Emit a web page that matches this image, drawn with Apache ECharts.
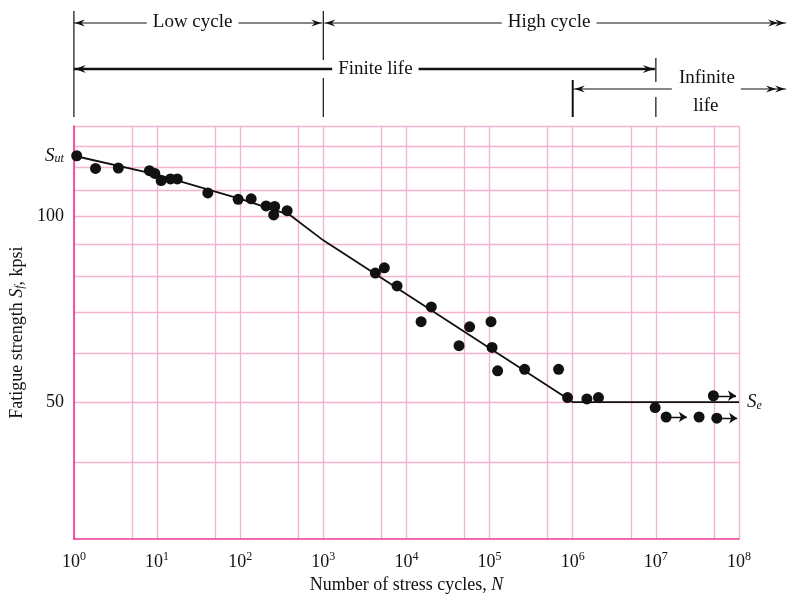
<!DOCTYPE html>
<html>
<head>
<meta charset="utf-8">
<title>S-N diagram</title>
<script src="https://cdn.jsdelivr.net/npm/echarts@6/dist/echarts.min.js"></script>
<style>body{margin:0;background:#fff;}</style>
</head>
<body>
<div id="main" style="width:786px;height:599px;"></div>
<script type="text/javascript">
    // test points: number of cycles and fatigue strength (kpsi)
    var cycles = [1.08, 1.82, 3.42, 8.1, 9.4, 11.2, 14.5, 17.5, 40.8, 94.6, 135.6, 205, 260, 253, 367,
        4230, 5420, 7710, 19900, 15000, 57500, 104000, 42900, 107000, 125000, 264000, 676000,
        867000, 1.48e6, 2.04e6, 9.8e6, 1.33e7, 3.31e7, 4.92e7, 5.41e7];
    var strength = [125.3, 119.5, 119.7, 118.5, 117.3, 114.2, 114.9, 114.9, 109.1, 106.5, 106.7, 103.9, 103.7, 100.5, 102.1,
        80.9, 82.5, 77.1, 71.3, 67.5, 66.2, 67.5, 61.7, 61.3, 56.2, 56.5, 56.5,
        50.85, 50.6, 50.85, 49.0, 47.3, 47.3, 51.2, 47.1];

    // fitted S-N curve
    var fitN = [1, 10, 100, 400, 1000, 1e6, 1e8];
    var fitS = [125.3, 116.8, 106.7, 100.4, 91.4, 50, 50];

    // run-outs (specimens that did not fail)
    var runStartN = [1.33e7, 4.92e7, 5.41e7];
    var runEndN = [2.36e7, 9.2e7, 9.5e7];
    var runS = [47.3, 51.2, 47.1];

    // grid lines and tick labels
    var gridN = [1, 5, 10, 50, 100, 500, 1e3, 5e3, 1e4, 5e4, 1e5, 5e5, 1e6, 5e6, 1e7, 5e7, 1e8];
    var labelN = [1, 10, 100, 1e3, 1e4, 1e5, 1e6, 1e7, 1e8];
    var gridS = [40, 50, 60, 70, 80, 90, 100, 110, 120, 130, 140];
    var labelS = [50, 100, 125.3];
    var sMin = 30, sMax = 140;

    var lg = Math.log10;
    var serif = '"Liberation Serif", "DejaVu Serif", serif';
    var pink = '#f5b3d3';
    var magenta = '#ec3a94';
    var ink = '#111111';

    var pts = cycles.map(function (n, i) { return [lg(n), lg(strength[i])]; });
    var fit = fitN.map(function (n, i) { return [lg(n), lg(fitS[i])]; });
    var runs = runS.map(function (s, i) {
        return { coords: [[lg(runStartN[i]), lg(s)], [lg(runEndN[i]), lg(s)]] };
    });

    var myChart = echarts.init(document.getElementById('main'));

    var option = {
        backgroundColor: '#fff',
        animation: false,
        textStyle: { fontFamily: serif, color: ink },
        grid: { left: 73, right: 47, top: 126, bottom: 59 },
        xAxis: {
            type: 'value',
            min: 0,
            max: 8,
            name: 'Number of stress cycles, {i|N}',
            nameLocation: 'middle',
            nameGap: 36,
            nameTextStyle: {
                fontFamily: serif, fontSize: 18, color: ink,
                rich: { i: { fontFamily: serif, fontSize: 18, fontStyle: 'italic', color: ink } }
            },
            axisLine: { lineStyle: { color: magenta, width: 1.6 } },
            axisTick: { show: false, customValues: gridN.map(lg) },
            splitLine: { show: true, lineStyle: { color: pink, width: 1.4 } },
            axisLabel: {
                customValues: labelN.map(lg),
                margin: 12,
                formatter: function (v) { return '{b|10}{s|' + Math.round(v) + '}'; },
                rich: {
                    b: { fontFamily: serif, fontSize: 18, color: ink, lineHeight: 22 },
                    s: { fontFamily: serif, fontSize: 12, color: ink, verticalAlign: 'top', lineHeight: 12 }
                }
            }
        },
        yAxis: {
            type: 'value',
            min: lg(sMin),
            max: lg(sMax),
            name: 'Fatigue strength {i|S}{sub|f}, kpsi',
            nameLocation: 'middle',
            nameGap: 47,
            nameTextStyle: {
                fontFamily: serif, fontSize: 18, color: ink,
                rich: {
                    i: { fontFamily: serif, fontSize: 18, fontStyle: 'italic', color: ink },
                    sub: { fontFamily: serif, fontSize: 12, fontStyle: 'italic', color: ink, verticalAlign: 'bottom' }
                }
            },
            axisLine: { show: true, lineStyle: { color: magenta, width: 1.6 } },
            axisTick: { show: false, customValues: gridS.map(lg) },
            splitLine: { show: true, lineStyle: { color: pink, width: 1.4 } },
            axisLabel: {
                customValues: labelS.map(lg),
                margin: 10,
                formatter: function (v) {
                    var s = Math.round(Math.pow(10, v));
                    return s === 125 ? '{i|S}{u|ut}' : '{n|' + s + '}';
                },
                rich: {
                    n: { fontFamily: serif, fontSize: 18, color: ink },
                    i: { fontFamily: serif, fontSize: 19, fontStyle: 'italic', color: ink },
                    u: { fontFamily: serif, fontSize: 12, fontStyle: 'italic', color: ink, verticalAlign: 'bottom' }
                }
            }
        },
        series: [
            {
                name: 'fit',
                type: 'line',
                data: fit,
                showSymbol: false,
                lineStyle: { color: ink, width: 1.8 },
                endLabel: {
                    show: true,
                    distance: 8,
                    formatter: '{i|S}{e|e}',
                    rich: {
                        i: { fontFamily: serif, fontSize: 19, fontStyle: 'italic', color: ink },
                        e: { fontFamily: serif, fontSize: 12, fontStyle: 'italic', color: ink, verticalAlign: 'bottom' }
                    }
                },
                z: 3
            },
            {
                name: 'runout',
                type: 'lines',
                coordinateSystem: 'cartesian2d',
                data: runs,
                symbol: ['none', 'arrow'],
                symbolSize: 8,
                lineStyle: { color: ink, width: 1.3, opacity: 1 },
                z: 4
            },
            {
                name: 'tests',
                type: 'scatter',
                data: pts,
                symbolSize: 11,
                itemStyle: { color: ink, opacity: 1 },
                z: 5
            }
        ]
    };

    myChart.setOption(option);

    // life-regime annotations above the plot, tied to the x axis
    var px = function (n) { return myChart.convertToPixel({ xAxisIndex: 0 }, lg(n)); };
    var x0 = px(1), x3 = px(1e3), x6 = px(1e6), x7 = px(1e7), xR = 786;

    function seg(xa, xb, y, w) {
        return { type: 'line', shape: { x1: xa, y1: y, x2: xb, y2: y }, style: { stroke: ink, lineWidth: w || 1.2 }, z: 10 };
    }
    function vseg(x, ya, yb, w) {
        return { type: 'line', shape: { x1: x, y1: ya, x2: x, y2: yb }, style: { stroke: ink, lineWidth: w || 1.2 }, z: 10 };
    }
    function head(x, y, dir, big) {
        var l = big ? 11 : 10, h = big ? 4 : 3.5, k = big ? 7 : 6.5;
        return {
            type: 'polygon',
            shape: { points: [[x, y], [x - dir * l, y - h], [x - dir * k, y], [x - dir * l, y + h]] },
            style: { fill: ink },
            z: 11
        };
    }
    function label(text, x, y) {
        return {
            type: 'text', x: x, y: y, z: 12,
            style: {
                text: text, font: '19px ' + serif, fill: ink,
                align: 'center', verticalAlign: 'middle',
                backgroundColor: '#fff', padding: [0, 6]
            }
        };
    }

    var y1 = 23, y2 = 69, y3 = 89;
    var g = [
        vseg(x0, 11, 117), vseg(x3, 11, 60), vseg(x3, 78, 117),
        vseg(x6, 80, 117, 2), vseg(x7, 58, 82), vseg(x7, 97, 117),
        // low cycle
        seg(x0, x3 - 1, y1), head(x0 + 1, y1, -1), head(x3 - 2, y1, 1),
        label('Low cycle', x0 + (x3 - x0) * 0.476, y1 - 1),
        // high cycle
        seg(x3 + 1, xR, y1), head(x3 + 2, y1, -1), head(xR - 1, y1, 1), head(xR - 8, y1, 1),
        label('High cycle', x3 + (xR - x3) * 0.488, y1 - 1),
        // finite life
        seg(x0, x7 - 1, y2, 2.4), head(x0 + 1, y2, -1, true), head(x7 - 2, y2, 1, true),
        label('Finite life', x0 + (x7 - x0) * 0.518, y2),
        // infinite life
        seg(x6 + 1, xR, y3), head(x6 + 2, y3, -1), head(xR - 1, y3, 1), head(xR - 10, y3, 1),
        {
            type: 'rect', shape: { x: x7 + 16, y: y3 - 8, width: 69, height: 16 },
            style: { fill: '#fff' }, z: 11
        },
        label('Infinite', x7 + 51, 78),
        label('life', x7 + 50, 106)
    ];
    myChart.setOption({ graphic: g });
</script>
</body>
</html>
